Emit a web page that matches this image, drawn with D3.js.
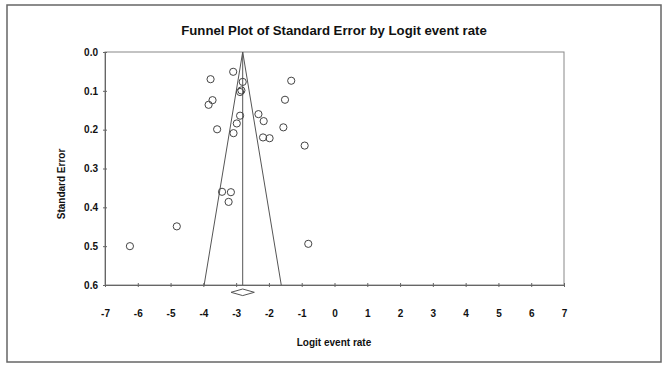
<!DOCTYPE html>
<html><head><meta charset="utf-8">
<script src="https://cdn.jsdelivr.net/npm/d3@7"></script>
<style>body{margin:0;background:#fff}svg{display:block}text{font-family:"Liberation Sans",Arial,sans-serif;font-weight:bold;fill:#111}</style>
</head><body>
<svg id="c" width="669" height="367"></svg>
<script>
const logitRate = [-3.09,-3.78,-2.80,-1.32,-2.88,-2.84,-3.72,-3.84,-1.51,-2.88,-2.32,-2.16,-2.98,-3.58,-1.56,-3.08,-2.18,-1.98,-0.91,-3.43,-3.16,-3.23,-4.81,-6.24,-0.80];
const stdError  = [0.051,0.070,0.077,0.074,0.103,0.099,0.124,0.136,0.123,0.164,0.160,0.178,0.184,0.199,0.194,0.209,0.220,0.222,0.241,0.360,0.361,0.386,0.449,0.500,0.494];
const pooled = -2.80;
const pooledCI = [-3.155, -2.445];
const xTicks = [-7,-6,-5,-4,-3,-2,-1,0,1,2,3,4,5,6,7];
const yTicks = [0.0,0.1,0.2,0.3,0.4,0.5,0.6];
const seMax = 0.6;

const svg = d3.select("#c");
const L=105,R=564,T=52,B=285;
const x = d3.scaleLinear().domain([-7,7]).range([L,R]);
const y = d3.scaleLinear().domain([0,0.6]).range([T,B]);

svg.append("rect").attr("x",7).attr("y",5).attr("width",654).attr("height",357)
  .attr("fill","none").attr("stroke","#666").attr("stroke-width",1.5);

svg.append("text").attr("x",334).attr("y",35).attr("text-anchor","middle")
  .style("font-size","13.2px").text("Funnel Plot of Standard Error by Logit event rate");

svg.append("rect").attr("x",L).attr("y",T).attr("width",R-L).attr("height",B-T)
  .attr("fill","none").attr("stroke","#888").attr("stroke-width",1);

const xa = svg.append("g").attr("transform",`translate(0,${B})`)
  .call(d3.axisBottom(x).tickValues(xTicks).tickFormat(d=>String(d)).tickSize(2).tickPadding(23));
xa.select(".domain").attr("stroke","#666");
xa.selectAll(".tick line").attr("stroke","#666").attr("y1",-2);
xa.selectAll("text").style("font-size","10px").attr("fill","#111");

const ya = svg.append("g").attr("transform",`translate(${L},0)`)
  .call(d3.axisLeft(y).tickValues(yTicks).tickFormat(d3.format(".1f")).tickSize(2).tickPadding(5));
ya.select(".domain").attr("stroke","#666");
ya.selectAll(".tick line").attr("stroke","#666").attr("x1",2);
ya.selectAll("text").style("font-size","10px").attr("fill","#111");

// funnel
const g = svg.append("g").attr("stroke","#555").attr("fill","none").attr("stroke-width",1);
g.append("line").attr("x1",x(pooled)).attr("x2",x(pooled)).attr("y1",y(0)).attr("y2",y(seMax));
g.append("line").attr("x1",x(pooled)).attr("y1",y(0)).attr("x2",x(pooled-1.96*seMax)).attr("y2",y(seMax));
g.append("line").attr("x1",x(pooled)).attr("y1",y(0)).attr("x2",x(pooled+1.96*seMax)).attr("y2",y(seMax));

// diamond
const dy = B+7.3;
svg.append("path").attr("d",`M${x(pooledCI[0])},${dy}L${x(pooled)},${dy-3.3}L${x(pooledCI[1])},${dy}L${x(pooled)},${dy+3.3}Z`)
  .attr("fill","#fff").attr("stroke","#555");

svg.append("g").selectAll("circle").data(logitRate).join("circle")
  .attr("cx",d=>x(d)).attr("cy",(d,i)=>y(stdError[i])).attr("r",3.6)
  .attr("fill","none").attr("stroke","#444").attr("stroke-width",1);

svg.append("text").attr("x",334).attr("y",346).attr("text-anchor","middle").style("font-size","10px").text("Logit event rate");
svg.append("text").attr("transform","translate(65,184) rotate(-90)").attr("text-anchor","middle").style("font-size","10px").text("Standard Error");
</script>
</body></html>
